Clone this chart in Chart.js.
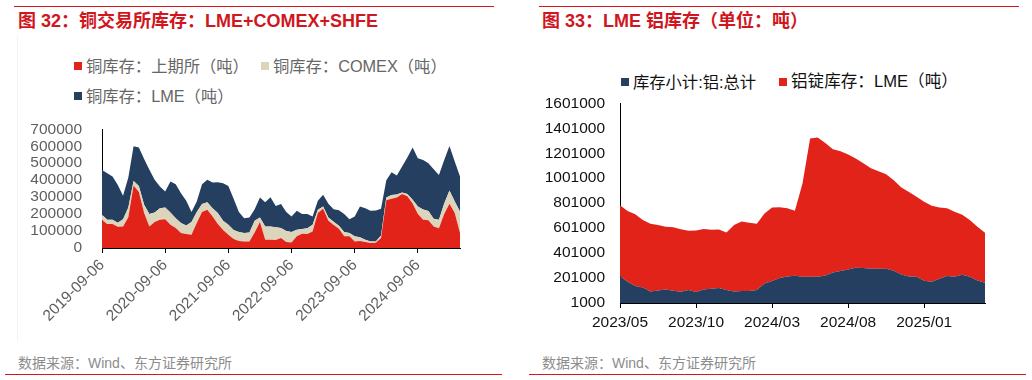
<!DOCTYPE html>
<html>
<head>
<meta charset="utf-8">
<script src="https://cdn.jsdelivr.net/npm/chart.js@4.4.1/dist/chart.umd.min.js"></script>
<style>
  body { margin: 0; width: 1032px; height: 380px; background: #fff; position: relative; overflow: hidden;
         font-family: "Liberation Sans", Arial, "Noto Sans CJK SC", sans-serif; }
  .rule { position: absolute; height: 1px; background: #d9141b; }
  .title { position: absolute; top: 11px; font-size: 18px; line-height: 21px; font-weight: bold; color: #d0161e; white-space: nowrap; }
  .src { position: absolute; top: 355px; font-size: 14px; line-height: 16px; color: #8c8c8c; white-space: nowrap; }
  .leg { position: absolute; display: flex; align-items: center; font-size: 16.3px; line-height: 18px; white-space: nowrap; }
  .sq { width: 8px; height: 8px; margin-right: 4px; }
  .frame { position: absolute; left: 17px; top: 36px; width: 1px; height: 305px; background: #f2f2f2; }
  canvas { position: absolute; }
</style>
</head>
<body>
<div class="rule" style="left:14px;top:6px;width:480px"></div>
<div class="rule" style="left:539px;top:6px;width:480px"></div>
<div class="rule" style="left:5px;top:374px;width:497px"></div>
<div class="rule" style="left:529px;top:374px;width:497px"></div>
<div class="frame"></div>

<div class="title" style="left:18px">图 32：铜交易所库存：LME+COMEX+SHFE</div>
<div class="title" style="left:542px">图 33：LME 铝库存（单位：吨）</div>

<div class="leg" style="left:74px;top:57px;color:#666"><span class="sq" style="background:#e2231a"></span>铜库存：上期所（吨）</div>
<div class="leg" style="left:261px;top:57px;color:#666"><span class="sq" style="background:#ddd4bc"></span>铜库存：COMEX（吨）</div>
<div class="leg" style="left:74px;top:87px;color:#666"><span class="sq" style="background:#243f5f"></span>铜库存：LME（吨）</div>

<div class="leg" style="left:621px;top:73px;color:#111"><span class="sq" style="background:#243f5f"></span>库存小计:铝:总计</div>
<div class="leg" style="left:779px;top:73px;color:#111;font-size:16.6px"><span class="sq" style="background:#e2231a"></span>铝锭库存：LME（吨）</div>

<canvas id="copper" width="480" height="233" style="left:0;top:100px"></canvas>
<canvas id="alu" width="480" height="254" style="left:516px;top:79px"></canvas>

<div class="src" style="left:18px">数据来源：Wind、东方证券研究所</div>
<div class="src" style="left:542px">数据来源：Wind、东方证券研究所</div>

<script>
var copperDates = [
  "2019-09-06", "2019-10-06", "2019-11-06", "2019-12-06",
  "2020-01-06", "2020-02-06", "2020-03-06", "2020-04-06", "2020-05-06", "2020-06-06",
  "2020-07-06", "2020-08-06", "2020-09-06", "2020-10-06", "2020-11-06", "2020-12-06",
  "2021-01-06", "2021-02-06", "2021-03-06", "2021-04-06", "2021-05-06", "2021-06-06",
  "2021-07-06", "2021-08-06", "2021-09-06", "2021-10-06", "2021-11-06", "2021-12-06",
  "2022-01-06", "2022-02-06", "2022-03-06", "2022-04-06", "2022-05-06", "2022-06-06",
  "2022-07-06", "2022-08-06", "2022-09-06", "2022-10-06", "2022-11-06", "2022-12-06",
  "2023-01-06", "2023-02-06", "2023-03-06", "2023-04-06", "2023-05-06", "2023-06-06",
  "2023-07-06", "2023-08-06", "2023-09-06", "2023-10-06", "2023-11-06", "2023-12-06",
  "2024-01-06", "2024-02-06", "2024-03-06", "2024-04-06", "2024-05-06", "2024-06-06",
  "2024-07-06", "2024-08-06", "2024-09-06", "2024-10-06", "2024-11-06", "2024-12-06",
  "2025-01-06", "2025-02-06", "2025-03-06", "2025-04-06", "2025-05-06"
];
var shfeCopper = [
  165000, 141000, 141000, 125000, 127000, 182000, 368000, 330000, 206000, 127000,
  153000, 167000, 169000, 137000, 118000, 88000, 82000, 78000, 147000, 212000,
  225000, 186000, 141000, 106000, 78000, 53000, 41000, 39000, 39000, 92000,
  153000, 49000, 49000, 47000, 59000, 35000, 33000, 69000, 84000, 82000,
  98000, 206000, 231000, 160000, 135000, 113000, 69000, 69000, 39000, 41000,
  35000, 29000, 31000, 59000, 282000, 290000, 298000, 318000, 305000, 262000,
  200000, 167000, 163000, 127000, 116000, 200000, 261000, 206000, 88000
];
var comexCopper = [
  31000, 26000, 25000, 24000, 42000, 57000, 27000, 35000, 49000, 73000,
  57000, 68000, 70000, 73000, 58000, 59000, 51000, 75000, 65000, 47000,
  45000, 49000, 65000, 55000, 59000, 53000, 53000, 49000, 53000, 69000,
  27000, 78000, 78000, 75000, 59000, 65000, 61000, 39000, 28000, 34000,
  39000, 19000, 14000, 20000, 20000, 18000, 25000, 19000, 30000, 22000,
  14000, 10000, 8000, 15000, 16000, 22000, 18000, 9000, 13000, 23000,
  45000, 60000, 55000, 45000, 50000, 63000, 78000, 68000, 127000
];
var lmeCopper = [
  264000, 274000, 255000, 223000, 139000, 177000, 205000, 227000, 270000, 261000,
  192000, 128000, 94000, 182000, 200000, 176000, 145000, 59000, 62000, 117000,
  132000, 151000, 182000, 221000, 228000, 184000, 118000, 88000, 88000, 68000,
  118000, 143000, 173000, 125000, 141000, 112000, 92000, 112000, 88000, 84000,
  49000, 53000, 69000, 81000, 74000, 92000, 106000, 81000, 117000, 182000,
  186000, 181000, 182000, 157000, 102000, 135000, 111000, 153000, 215000, 307000,
  284000, 292000, 282000, 293000, 265000, 256000, 263000, 236000, 206000
];
var copperYTicks = [0, 100000, 200000, 300000, 400000, 500000, 600000, 700000];

var aluDates = [
  "2023/05/01", "2023/05/16", "2023/06/01", "2023/06/16", "2023/07/01", "2023/07/16",
  "2023/08/01", "2023/08/16", "2023/09/01", "2023/09/16", "2023/10/01", "2023/10/16",
  "2023/11/01", "2023/11/16", "2023/12/01", "2023/12/16",
  "2024/01/01", "2024/01/16", "2024/02/01", "2024/02/16", "2024/03/01", "2024/03/16",
  "2024/04/01", "2024/04/16", "2024/05/01", "2024/05/16", "2024/06/01", "2024/06/16",
  "2024/07/01", "2024/07/16", "2024/08/01", "2024/08/16", "2024/09/01", "2024/09/16",
  "2024/10/01", "2024/10/16", "2024/11/01", "2024/11/16", "2024/12/01", "2024/12/16",
  "2025/01/01", "2025/01/16", "2025/02/01", "2025/02/16", "2025/03/01", "2025/03/16",
  "2025/04/01", "2025/04/16", "2025/05/01"
];
var aluTotal = [
  217000, 171000, 137000, 126000, 94000, 102000, 110000, 100000, 92000, 105000,
  89000, 110000, 116000, 121000, 105000, 94000, 97000, 97000, 105000, 158000,
  177000, 201000, 214000, 220000, 212000, 212000, 212000, 222000, 246000, 257000,
  270000, 284000, 281000, 276000, 276000, 276000, 260000, 230000, 214000, 212000,
  180000, 172000, 196000, 217000, 212000, 228000, 212000, 182000, 164000
];
var aluLme = [
  568000, 568000, 576000, 539000, 541000, 523000, 501000, 507000, 499000, 475000,
  493000, 483000, 472000, 469000, 461000, 531000, 557000, 547000, 531000, 560000,
  589000, 568000, 547000, 520000, 747000, 1107000, 1115000, 1061000, 987000, 960000,
  920000, 875000, 840000, 805000, 781000, 757000, 725000, 696000, 677000, 640000,
  632000, 608000, 571000, 544000, 520000, 480000, 453000, 429000, 400000
];
var aluYTicks = [1000, 201000, 401000, 601000, 801000, 1001000, 1201000, 1401000, 1601000];

Chart.defaults.font.family = '"Liberation Sans", Arial, "Noto Sans CJK SC", sans-serif';
Chart.defaults.animation = false;

var baseOpts = {
  responsive: false,
  devicePixelRatio: 1,
  elements: { point: { radius: 0 }, line: { borderWidth: 0, tension: 0 } },
  plugins: { legend: { display: false }, tooltip: { enabled: false } }
};

// 铜：三大交易所堆叠面积
new Chart(document.getElementById("copper"), {
  type: "line",
  data: {
    labels: copperDates,
    datasets: [
      { label: "铜库存：上期所（吨）", data: shfeCopper, backgroundColor: "#e2231a", borderColor: "#e2231a", fill: "origin" },
      { label: "铜库存：COMEX（吨）", data: comexCopper, backgroundColor: "#ddd4bc", borderColor: "#ddd4bc", fill: "-1" },
      { label: "铜库存：LME（吨）", data: lmeCopper, backgroundColor: "#243f5f", borderColor: "#243f5f", fill: "-1" }
    ]
  },
  options: Object.assign({}, baseOpts, {
    layout: { padding: { top: 0, right: 20, left: 0, bottom: 0 } },
    scales: {
      x: {
        grid: {
          drawOnChartArea: false,
          tickLength: 5,
          tickColor: function (c) { return c.index % 12 === 0 ? "#000" : "rgba(0,0,0,0)"; }
        },
        border: { color: "#000" },
        ticks: {
          autoSkip: false, maxRotation: 45, minRotation: 45, padding: 3,
          color: "#5f5f5f", font: { size: 15.5 },
          callback: function (v, i) { return i % 12 === 0 ? copperDates[i] : ""; }
        },
        afterFit: function (s) { s.height = 85; }
      },
      y: {
        stacked: true,
        min: copperYTicks[0],
        max: copperYTicks[copperYTicks.length - 1],
        grid: { display: false, drawTicks: false },
        border: { display: true, color: "#000" },
        ticks: {
          autoSkip: false,
          stepSize: copperYTicks[1] - copperYTicks[0],
          padding: 20, color: "#5f5f5f", font: { size: 15.5 },
          callback: function (v) { return String(v); }
        },
        afterFit: function (s) { s.width = 102; }
      }
    }
  })
});

// 铝：库存小计 + LME
new Chart(document.getElementById("alu"), {
  type: "line",
  data: {
    labels: aluDates,
    datasets: [
      { label: "库存小计:铝:总计", data: aluTotal, backgroundColor: "#243f5f", borderColor: "#243f5f", fill: "origin" },
      { label: "铝锭库存：LME（吨）", data: aluLme, backgroundColor: "#e2231a", borderColor: "#e2231a", fill: "-1" }
    ]
  },
  options: Object.assign({}, baseOpts, {
    layout: { padding: { top: 0, right: 11, left: 0, bottom: 0 } },
    scales: {
      x: {
        grid: {
          drawOnChartArea: false,
          tickLength: 5,
          tickColor: function (c) { return c.index % 10 === 0 ? "#000" : "rgba(0,0,0,0)"; }
        },
        border: { color: "#000" },
        ticks: {
          autoSkip: false, maxRotation: 0, minRotation: 0, padding: 5,
          color: "#111", font: { size: 15.5 },
          callback: function (v, i) { return i % 10 === 0 ? aluDates[i].slice(0, 7) : ""; }
        },
        afterFit: function (s) { s.height = 30; }
      },
      y: {
        stacked: true,
        min: aluYTicks[0],
        max: aluYTicks[aluYTicks.length - 1],
        grid: { display: false, drawTicks: false },
        border: { display: true, color: "#000" },
        ticks: {
          autoSkip: false,
          stepSize: aluYTicks[1] - aluYTicks[0],
          padding: 15, color: "#111", font: { size: 15.5 },
          callback: function (v) { return String(v); }
        },
        afterFit: function (s) { s.width = 104; }
      }
    }
  })
});
</script>
</body>
</html>
